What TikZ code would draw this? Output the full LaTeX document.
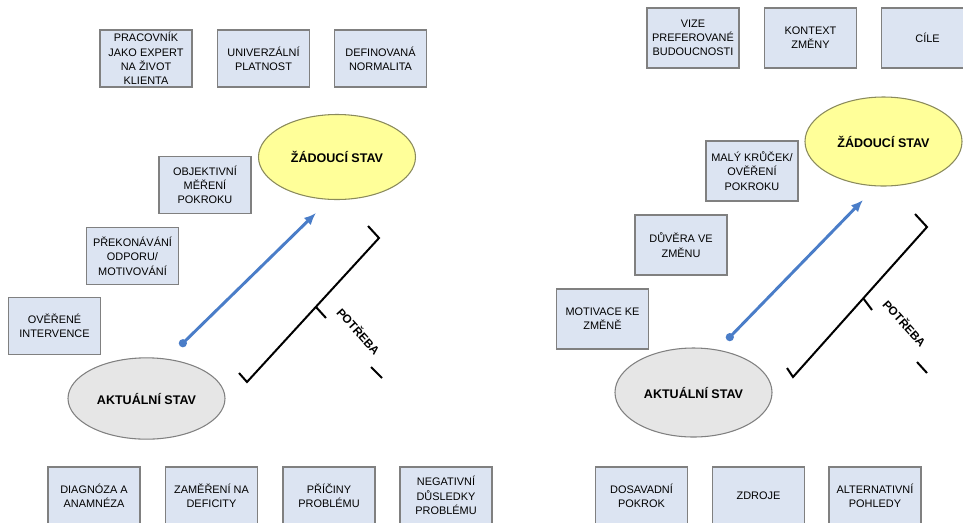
\documentclass[tikz,border=0pt]{standalone}
\usepackage{fontspec}
\setmainfont{Liberation Sans}
\usetikzlibrary{shapes,arrows.meta,positioning}

\definecolor{boxfill}{HTML}{DCE4F2}
\definecolor{boxline}{HTML}{808080}
\definecolor{goalfill}{HTML}{FFFF99}
\definecolor{goalline}{HTML}{8A8A5C}
\definecolor{nowfill}{HTML}{E6E6E6}
\definecolor{pathblue}{HTML}{4A7DC8}

\begin{document}
\begin{tikzpicture}[x=0.75pt, y=-0.75pt, thick]
    % Styles
    \tikzstyle{topic} = [rectangle, draw=boxline, fill=boxfill, line width=0.8pt, minimum width=69pt, minimum height=42.75pt, inner sep=1pt, align=center, font=\fontsize{8.2}{10.7}\selectfont]
    \tikzstyle{topic_tall} = [topic, minimum height=45pt]
    \tikzstyle{goal} = [ellipse, draw=goalline, fill=goalfill, line width=0.8pt, minimum width=117.75pt, minimum height=64pt, inner sep=0pt, font=\bfseries\fontsize{9.4}{11}\selectfont]
    \tikzstyle{now} = [goal, draw=boxline, fill=nowfill, minimum height=61pt]
    \tikzstyle{path_arrow} = [{Circle[length=6pt]}-{Latex[length=9pt,width=7.5pt]}, draw=pathblue, line width=2.2pt]
    \tikzstyle{bracket} = [draw=black, line width=1.5pt]
    \tikzstyle{need_label} = [font=\bfseries\fontsize{8.8}{10}\selectfont, rotate=-48]

    \clip (0,0) rectangle (963,522);

    % Left: top row
    \node [topic] (expert) at (146,58.5) {PRACOVNÍK\\JAKO EXPERT\\NA ŽIVOT\\KLIENTA};
    \node [topic] (platnost) at (263.5,58.5) {UNIVERZÁLNÍ\\PLATNOST};
    \node [topic] (normalita) at (380.5,58.5) {DEFINOVANÁ\\NORMALITA};

    % Left: steps
    \node [topic] (mereni) at (205,185) {OBJEKTIVNÍ\\MĚŘENÍ\\POKROKU};
    \node [topic] (odpor) at (132.5,256) {PŘEKONÁVÁNÍ\\ODPORU/\\MOTIVOVÁNÍ};
    \node [topic] (intervence) at (54.5,326) {OVĚŘENÉ\\INTERVENCE};

    % Left: states
    \node [goal, minimum height=63.75pt] (zad_l) at (337,157) {ŽÁDOUCÍ STAV};
    \node [now] (akt_l) at (146.5,398.5) {AKTUÁLNÍ STAV};

    % Left: bottom row
    \node [topic] (diagnoza) at (94,495.5) {DIAGNÓZA A\\ANAMNÉZA};
    \node [topic] (deficity) at (211.5,495.5) {ZAMĚŘENÍ NA\\DEFICITY};
    \node [topic] (priciny) at (329,495.5) {PŘÍČINY\\PROBLÉMU};
    \node [topic] (dusledky) at (446,495.5) {NEGATIVNÍ\\DŮSLEDKY\\PROBLÉMU};

    % Right: top row
    \node [topic_tall] (vize) at (693,38) {VIZE\\PREFEROVANÉ\\BUDOUCNOSTI};
    \node [topic_tall] (kontext) at (810.5,38) {KONTEXT\\ZMĚNY};
    \node [topic_tall] (cile) at (927.5,38) {CÍLE};

    % Right: steps
    \node [topic_tall] (krucek) at (752,171) {MALÝ KRŮČEK/\\OVĚŘENÍ\\POKROKU};
    \node [topic_tall] (duvera) at (681,245) {DŮVĚRA VE\\ZMĚNU};
    \node [topic_tall] (motivace) at (602.5,319) {MOTIVACE KE\\ZMĚNĚ};

    % Right: states
    \node [goal, minimum height=66.75pt] (zad_r) at (883.5,141.5) {ŽÁDOUCÍ STAV};
    \node [now, minimum height=66.75pt] (akt_r) at (693.5,392.5) {AKTUÁLNÍ STAV};

    % Right: bottom row
    \node [topic] (dosavadni) at (641.5,495.5) {DOSAVADNÍ\\POKROK};
    \node [topic] (zdroje) at (758.5,495.5) {ZDROJE};
    \node [topic] (pohledy) at (875,495.5) {ALTERNATIVNÍ\\POHLEDY};

    % Paths from current to desired state
    \coordinate (start_l) at (180,346);
    \coordinate (end_l) at (316,213);
    \coordinate (start_r) at (727,340);
    \coordinate (end_r) at (863,200);
    \draw [path_arrow] (start_l) -- (end_l);
    \draw [path_arrow] (start_r) -- (end_r);

    % Need brackets
    \draw [bracket] (368,226) -- (379,238) -- (247,382) -- (239,373);
    \draw [bracket] (316,307) -- (326,318);
    \draw [bracket] (371,367) -- (382,378);
    \node [need_label] (need_l) at (359,331) {POTŘEBA};

    \draw [bracket] (915,214) -- (927,227) -- (793,377) -- (787,368);
    \draw [bracket] (863,298) -- (872,310);
    \draw [bracket] (917,362) -- (927,373);
    \node [need_label] (need_r) at (905,323) {POTŘEBA};

\end{tikzpicture}
\end{document}
